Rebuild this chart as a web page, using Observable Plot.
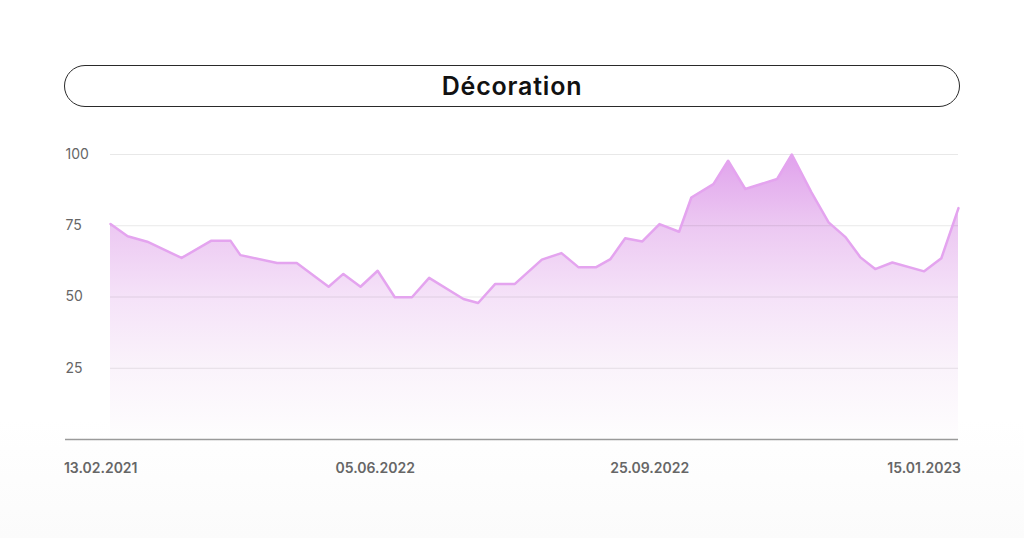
<!DOCTYPE html>
<html>
<head>
<meta charset="utf-8">
<script src="https://cdn.jsdelivr.net/npm/d3@7"></script>
<script src="https://cdn.jsdelivr.net/npm/@observablehq/plot@0.6"></script>
<style>
  html, body { margin: 0; padding: 0; }
  body {
    width: 1024px; height: 538px; overflow: hidden; position: relative;
    background: linear-gradient(to bottom, #ffffff 0%, #ffffff 78%, #fbfbfb 100%);
    font-family: Inter, "Noto Sans", sans-serif;
  }
  #title {
    position: absolute; left: 64px; top: 65px; width: 894px; height: 40px;
    border: 1.3px solid #2a2a2a; border-radius: 21px;
    display: flex; align-items: center; justify-content: center;
    font-family: Inter, sans-serif; font-weight: 600; font-size: 25px; color: #111;
    letter-spacing: 0.8px;
  }
  #chart { position: absolute; left: 0; top: 120px; }
</style>
</head>
<body>
<div id="title">Décoration</div>
<div id="chart"></div>
<script>
const dates = [
  "2022-02-17","2022-02-24","2022-03-04","2022-03-18","2022-03-30","2022-04-07",
  "2022-04-11","2022-04-26","2022-05-04","2022-05-17","2022-05-23","2022-05-30",
  "2022-06-06","2022-06-13","2022-06-20","2022-06-27","2022-07-11","2022-07-17",
  "2022-07-24","2022-08-01","2022-08-12","2022-08-20","2022-08-27","2022-09-03",
  "2022-09-09","2022-09-15","2022-09-22","2022-09-29","2022-10-07","2022-10-12",
  "2022-10-21","2022-10-27","2022-11-03","2022-11-16","2022-11-22","2022-11-30",
  "2022-12-07","2022-12-14","2022-12-20","2022-12-26","2023-01-02","2023-01-15",
  "2023-01-22","2023-01-29"
];
const values = [
  75.6, 71.3, 69.4, 63.7, 69.7, 69.7,
  64.7, 61.9, 61.9, 53.6, 58.1, 53.6,
  59.2, 49.9, 49.9, 56.7, 49.3, 47.9,
  54.6, 54.6, 63.1, 65.4, 60.4, 60.4,
  63.3, 70.6, 69.5, 75.6, 72.9, 84.9,
  89.6, 97.8, 87.9, 91.4, 100, 86.7,
  76.2, 70.9, 63.9, 59.8, 62.1, 59.0,
  63.6, 81.2
];
const tickDates = ["2022-02-13", "2022-06-05", "2022-09-25", "2023-01-15"];
const tickLabels = ["13.02.2021", "05.06.2022", "25.09.2022", "15.01.2023"];
const yTicks = [25, 50, 75, 100];

const data = dates.map((d, i) => ({date: new Date(d), value: values[i]}));
const ticks = tickDates.map((d, i) => ({date: new Date(d), label: tickLabels[i]}));

function gradientDefs() {
  const ns = "http://www.w3.org/2000/svg";
  const defs = document.createElementNS(ns, "defs");
  const g = document.createElementNS(ns, "linearGradient");
  g.setAttribute("id", "decoGrad");
  g.setAttribute("x1", "0"); g.setAttribute("y1", "0");
  g.setAttribute("x2", "0"); g.setAttribute("y2", "1");
  [[0, "#e0a2ec"], [0.25, "#ecc8f2"], [0.5, "#f5e2f8"], [0.75, "#faf3fb"], [1, "#fefdfe"]]
    .forEach(([o, c]) => {
      const s = document.createElementNS(ns, "stop");
      s.setAttribute("offset", o);
      s.setAttribute("stop-color", c);
      g.appendChild(s);
    });
  defs.appendChild(g);
  return defs;
}

const plot = Plot.plot({
  width: 1024,
  height: 418,
  marginLeft: 110,
  marginRight: 66,
  marginTop: 34,
  marginBottom: 99,
  style: {background: "transparent", overflow: "visible", fontFamily: "Inter, sans-serif"},
  x: {type: "utc", domain: [data[0].date, data[data.length - 1].date], axis: null},
  y: {domain: [0, 100], axis: null},
  marks: [
    gradientDefs,
    Plot.areaY(data, {x: "date", y: "value", fill: "url(#decoGrad)"}),
    Plot.ruleY(yTicks, {stroke: "#000", strokeOpacity: 0.09}),
    Plot.lineY(data, {x: "date", y: "value", stroke: "#e4a4ef", strokeWidth: 2.5}),
    Plot.ruleY([0], {stroke: "#9a9a9a", strokeWidth: 1.5, insetLeft: -45}),
    Plot.text(yTicks, {y: d => d, text: d => String(d), frameAnchor: "left", textAnchor: "start", dx: -45, fontSize: 14, fill: "#666"}),
    Plot.text(ticks, {x: "date", text: "label", frameAnchor: "bottom", dy: 33, fontSize: 14, fontWeight: 600, fill: "#666"})
  ]
});
document.getElementById("chart").appendChild(plot);
</script>
</body>
</html>
